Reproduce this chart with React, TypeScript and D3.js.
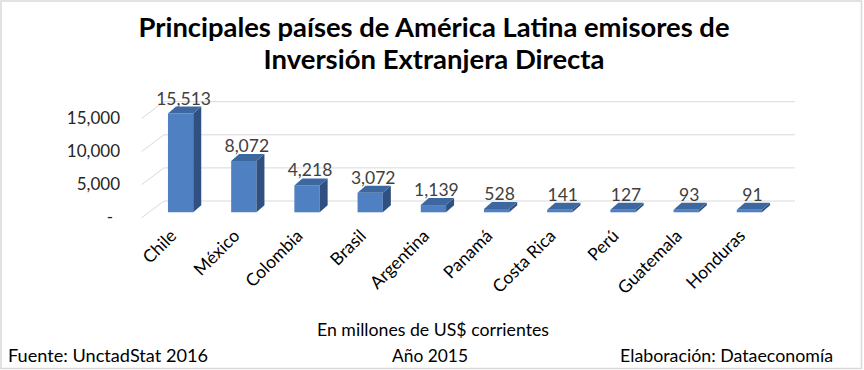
import React from "react";
import * as d3 from "d3";

const countries = ["Chile", "México", "Colombia", "Brasil", "Argentina", "Panamá", "Costa Rica", "Perú", "Guatemala", "Honduras"];
const values = [15513, 8072, 4218, 3072, 1139, 528, 141, 127, 93, 91];
const yTicks = [0, 5000, 10000, 15000];
const titleLines = ["Principales países de América Latina emisores de", "Inversión Extranjera Directa"];

const W = 864, H = 370;
const FONT = "Lato, 'Open Sans', sans-serif";
const fmt = (v: number) => (v === 0 ? "-" : d3.format(",")(v));

export default function App() {
  const x = d3.scaleBand<string>().domain(countries).range([149, 781]).paddingInner(0.6).paddingOuter(0.3);
  const yBar = d3.scaleLinear().domain([0, 15513]).range([212.3, 113.5]);
  const yFront = d3.scaleLinear().domain([0, 15000]).range([217.7, 118.3]);
  const yBack = d3.scaleLinear().domain([0, 15000]).range([201, 101.7]);
  const dx = 8, dy = -7;
  const bw = x.bandwidth();

  return (
    <svg width={W} height={H} style={{ position: "absolute", left: 0, top: 0, background: "#fff" }} fontFamily={FONT}>
      <rect x={1} y={1} width={860.5} height={367.5} fill="#fff" stroke="#d9d9d9" strokeWidth={1.5} />
      {titleLines.map((t, i) => (
        <text key={i} x={434} y={i === 0 ? 37 : 69} textAnchor="middle" fontSize={26} fontWeight={700} fill="#000"
          textLength={i === 0 ? 591 : 341} lengthAdjust="spacingAndGlyphs">{t}</text>
      ))}
      {yTicks.map((t) => (
        <g key={t}>
          <line x1={141.7} y1={yFront(t)} x2={164} y2={yBack(t)} stroke="#d9d9d9" strokeWidth={1} />
          <line x1={164} y1={yBack(t)} x2={795} y2={yBack(t)} stroke="#d9d9d9" strokeWidth={1} />
          <text x={t === 0 ? 113 : 120} y={yFront(t) + 1} textAnchor="end" dominantBaseline="middle" fontSize={17} fill="#262626">{fmt(t)}</text>
        </g>
      ))}
      {countries.map((c, i) => {
        const x0 = x(c)!;
        const y0 = yBar(0);
        const yt = Math.min(yBar(values[i]), y0 - 2.5);
        const front = `M${x0},${y0}V${yt}H${x0 + bw}V${y0}Z`;
        const side = `M${x0 + bw},${y0}V${yt}L${x0 + bw + dx},${yt + dy}V${y0 + dy}Z`;
        const top = `M${x0},${yt}L${x0 + dx},${yt + dy}H${x0 + bw + dx}L${x0 + bw},${yt}Z`;
        const cx = x0 + bw / 2;
        return (
          <g key={c}>
            <path d={front} fill="#4f81c2" />
            <path d={side} fill="#2f5080" />
            <path d={top} fill="#3d689f" />
            <text x={cx + 3} y={yt + dy - 2} textAnchor="middle" fontSize={17.5} fill="#404040">{fmt(values[i])}</text>
            <text transform={`translate(${cx - 3},${237}) rotate(-45)`} textAnchor="end" fontSize={17.5} fill="#000">{c}</text>
          </g>
        );
      })}
      <text x={433} y={336} textAnchor="middle" fontSize={17} fill="#000" textLength={232} lengthAdjust="spacingAndGlyphs">En millones de US$ corrientes</text>
      <text x={430} y={362} textAnchor="middle" fontSize={17} fill="#000" textLength={76} lengthAdjust="spacingAndGlyphs">Año 2015</text>
      <text x={8} y={362} textAnchor="start" fontSize={17} fill="#000" textLength={200} lengthAdjust="spacingAndGlyphs">Fuente: UnctadStat 2016</text>
      <text x={833} y={362} textAnchor="end" fontSize={17} fill="#000" textLength={213} lengthAdjust="spacingAndGlyphs">Elaboración: Dataeconomía</text>
    </svg>
  );
}
